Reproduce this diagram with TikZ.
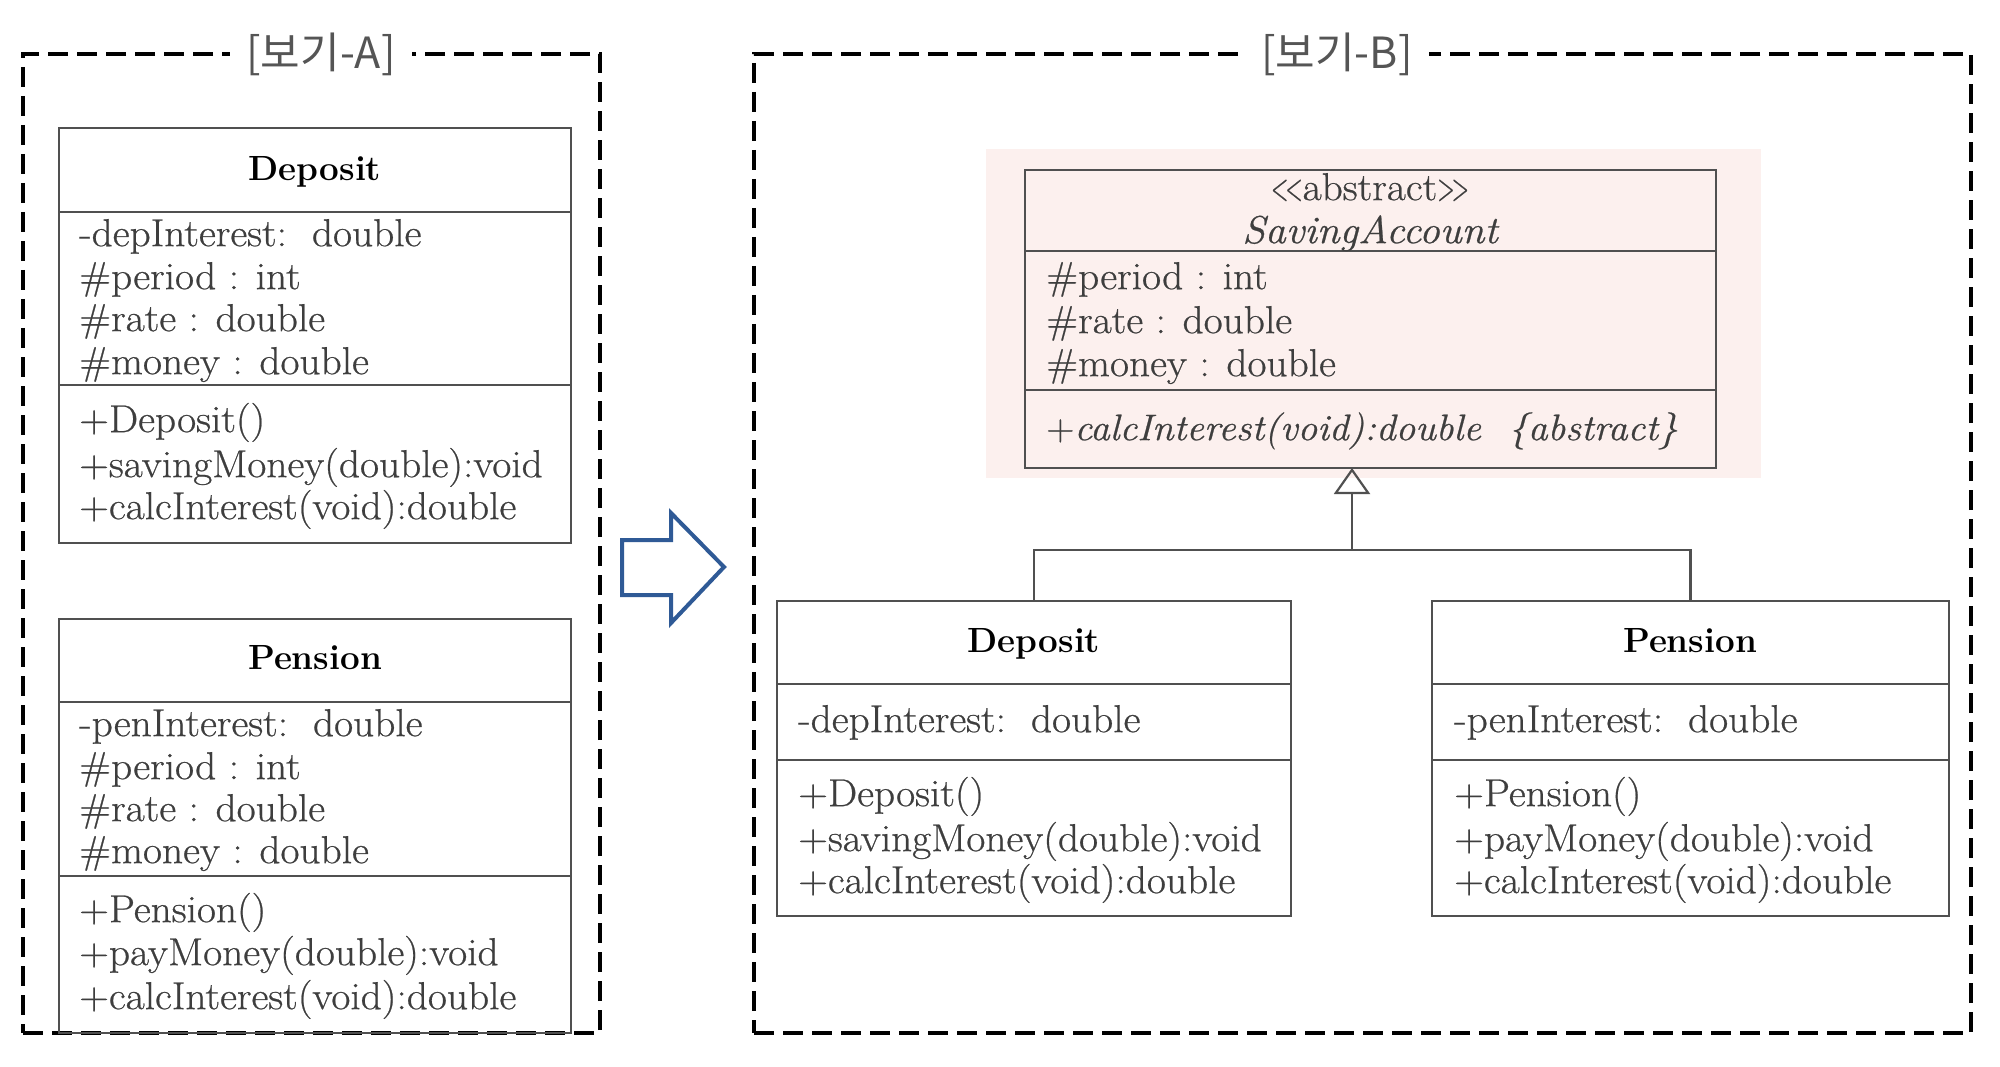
\documentclass[tikz,border=0pt]{standalone}
\usepackage{fontspec}
\newfontfamily\krfont{Noto Sans CJK KR}
\newfontfamily\umlfont[FakeStretch=1.06, FakeBold=0.6]{Latin Modern Roman}
\usetikzlibrary{arrows.meta}
\definecolor{boxc}{RGB}{80,80,80}
\definecolor{txtc}{RGB}{62,62,62}
\definecolor{pinkbg}{RGB}{252,240,238}
\definecolor{arrowblue}{RGB}{47,90,150}
\definecolor{labc}{RGB}{85,85,85}
\newcommand\stleft{\scalebox{0.55}[1]{<}\kern-3pt\scalebox{0.55}[1]{<}}
\newcommand\stright{\scalebox{0.55}[1]{>}\kern-3pt\scalebox{0.55}[1]{>}}
\begin{document}
\begin{tikzpicture}[x=1pt,y=-1pt,
 comp/.style={draw=boxc, line width=2.2pt, anchor=north west, inner sep=0pt, outer sep=0pt},
 attr/.style={anchor=mid west, inner sep=0pt, yshift=-8pt, text=txtc, font=\umlfont\fontsize{39}{44}\selectfont},
 cname/.style={anchor=mid, inner sep=0pt, yshift=-8pt, text=black, font=\fontsize{35}{42}\selectfont\bfseries},
 frame/.style={draw=black, line width=4.5pt, dash pattern=on 20pt off 9pt, anchor=north west, inner sep=0pt, outer sep=0pt},
 flabel/.style={fill=white, inner xsep=16pt, inner ysep=4pt, text=labc, font=\krfont\fontsize{43}{50}\selectfont},
]
\useasboundingbox (0,0) rectangle (2000,1067);

% ---------- frames ----------
\node[frame, minimum width=577pt, minimum height=979pt] (frameA) at (23,54) {};
\node[flabel] (labA) at (321,54) {[보기-A]};
\node[frame, minimum width=1217pt, minimum height=979pt] (frameB) at (754,54) {};
\node[flabel] (labB) at (1337,54) {[보기-B]};

% ---------- Deposit (A) ----------
\node[comp, minimum width=512pt, minimum height=84pt] (depAh) at (59,128) {};
\node[comp, minimum width=512pt, minimum height=173pt] (depAa) at (59,212) {};
\node[comp, minimum width=512pt, minimum height=158pt] (depAm) at (59,385) {};
\node[cname] (depAt) at (315,170) {Deposit};
\node[attr] (depA1) at (79,236) {-depInterest:\ \ double};
\node[attr] (depA2) at (79,279) {\#period : int};
\node[attr] (depA3) at (79,321) {\#rate : double};
\node[attr] (depA4) at (79,364) {\#money : double};
\node[attr] (depA5) at (79,422) {+Deposit()};
\node[attr] (depA6) at (79,467) {+savingMoney(double):void};
\node[attr] (depA7) at (79,509) {+calcInterest(void):double};

% ---------- Pension (A) ----------
\node[comp, minimum width=512pt, minimum height=83pt] (penAh) at (59,619) {};
\node[comp, minimum width=512pt, minimum height=174pt] (penAa) at (59,702) {};
\node[comp, minimum width=512pt, minimum height=157pt] (penAm) at (59,876) {};
\node[cname] (penAt) at (315,659) {Pension};
\node[attr] (penA1) at (79,726) {-penInterest:\ \ double};
\node[attr] (penA2) at (79,769) {\#period : int};
\node[attr] (penA3) at (79,811) {\#rate : double};
\node[attr] (penA4) at (79,853) {\#money : double};
\node[attr] (penA5) at (79,912) {+Pension()};
\node[attr] (penA6) at (79,955) {+payMoney(double):void};
\node[attr] (penA7) at (79,999) {+calcInterest(void):double};

% ---------- big arrow ----------
\draw[arrowblue, line width=4pt, line join=miter]
  (622,540) -- (671,540) -- (671,513) -- (724,567) -- (671,623) -- (671,595) -- (622,595) -- cycle;

% ---------- SavingAccount ----------
\fill[pinkbg] (986,149) rectangle (1761,478);
\node[comp, minimum width=691pt, minimum height=81pt] (sah) at (1025,170) {};
\node[comp, minimum width=691pt, minimum height=139pt] (saa) at (1025,251) {};
\node[comp, minimum width=691pt, minimum height=78pt] (sam) at (1025,390) {};
\node[attr, anchor=mid] (sat1) at (1370,190) {\stleft abstract\stright};
\node[attr, anchor=mid, font=\umlfont\fontsize{39}{44}\selectfont\itshape] (sat2) at (1370,233) {SavingAccount};
\node[attr] (sa1) at (1046,279) {\#period : int};
\node[attr] (sa2) at (1046,323) {\#rate : double};
\node[attr] (sa3) at (1046,366) {\#money : double};
\node[attr, font=\umlfont\fontsize{37}{44}\selectfont] (sa4) at (1046,430) {+\textit{calcInterest(void):double \ \{abstract\}}};

% ---------- Deposit (B) ----------
\node[comp, minimum width=514pt, minimum height=83pt] (depBh) at (777,601) {};
\node[comp, minimum width=514pt, minimum height=76pt] (depBa) at (777,684) {};
\node[comp, minimum width=514pt, minimum height=156pt] (depBm) at (777,760) {};
\node[cname] (depBt) at (1034,642) {Deposit};
\node[attr] (depB1) at (798,722) {-depInterest:\ \ double};
\node[attr] (depB2) at (798,796) {+Deposit()};
\node[attr] (depB3) at (798,841) {+savingMoney(double):void};
\node[attr] (depB4) at (798,883) {+calcInterest(void):double};

% ---------- Pension (B) ----------
\node[comp, minimum width=517pt, minimum height=83pt] (penBh) at (1432,601) {};
\node[comp, minimum width=517pt, minimum height=76pt] (penBa) at (1432,684) {};
\node[comp, minimum width=517pt, minimum height=156pt] (penBm) at (1432,760) {};
\node[cname] (penBt) at (1690,642) {Pension};
\node[attr] (penB1) at (1454,722) {-penInterest:\ \ double};
\node[attr] (penB2) at (1454,796) {+Pension()};
\node[attr] (penB3) at (1454,841) {+payMoney(double):void};
\node[attr] (penB4) at (1454,883) {+calcInterest(void):double};

% ---------- inheritance ----------
\coordinate (j) at (1352,550);
\draw[boxc, line width=2.2pt] (depBh.north) |- (j) -| (penBh.north);
\draw[boxc, line width=2.2pt, -{Triangle[open, length=26pt, width=36pt, line width=2.2pt]}] (j) -- (j |- sam.south);
\end{tikzpicture}
\end{document}
